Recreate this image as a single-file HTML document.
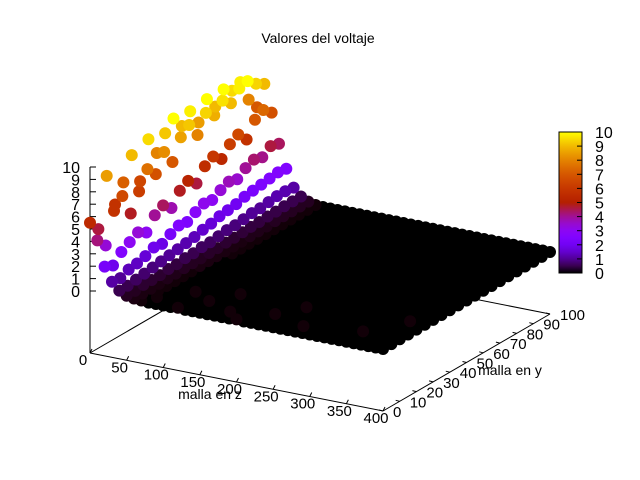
<!DOCTYPE html>
<html><head><meta charset="utf-8"><style>
html,body{margin:0;padding:0;background:#fff;}
svg{display:block;font-family:"Liberation Sans",sans-serif;}
</style></head><body>
<svg id="chart" width="640" height="480" viewBox="0 0 640 480" xmlns="http://www.w3.org/2000/svg">
<rect width="640" height="480" fill="#fff"/>
<text x="318" y="43" font-size="14" text-anchor="middle">Valores del voltaje</text>
<g id="axes"></g>
<g id="points"></g>
<g id="cbar"></g>
<text x="210" y="399" font-size="14" text-anchor="middle">malla en z</text>
<text x="510" y="375" font-size="14" text-anchor="middle">malla en y</text>
</svg>
<script>
// grid coordinates
const xVals = [0,10,20,30,40,50,60,70,80,90,100,110,120,130,140,150,160,170,180,190,200,210,220,230,240,250,260,270,280,290,300,310,320,330,340,350,360,370,380,390,400];
const yVals = [0,5,10,15,20,25,30,35,40,45,50,55,60,65,70,75,80,85,90,95,100];
// voltage values: one row per y value, columns follow xVals
const vRows = [
[5.5,4.2,2.2,1.1,0.5,0.2,0.1,0.05,0,0,0,0,0.05,0,0,0,0,0,0,0,0.05,0,0,0,0,0,0,0,0,0,0,0,0,0,0,0,0,0,0,0,0],
[4.6,3.4,1.9,1.0,0.5,0.2,0.1,0,0.05,0,0,0,0,0,0,0,0,0,0.05,0,0,0,0,0,0,0,0,0,0.05,0,0,0,0,0,0,0,0,0,0,0,0],
[8.5,5.8,2.6,1.3,0.6,0.3,0.1,0.05,0,0,0,0,0,0,0.05,0,0,0,0,0,0,0,0,0.05,0,0,0,0,0,0,0,0,0,0,0,0.05,0,0,0,0,0],
[5.8,6.6,3.0,1.4,0.7,0.3,0.1,0.05,0,0,0,0.05,0,0,0,0,0,0,0,0,0,0,0,0,0,0,0,0,0,0,0,0,0,0,0,0,0,0,0,0,0],
[7.2,4.8,3.4,1.6,0.8,0.3,0.15,0.05,0,0,0,0,0,0,0,0,0.05,0,0,0,0,0,0,0,0,0.05,0,0,0,0,0,0,0,0,0,0,0,0,0,0,0],
[9.0,6.2,3.0,1.9,0.9,0.4,0.15,0.05,0,0,0,0,0,0,0,0,0,0,0,0,0,0,0,0,0,0,0,0,0,0,0,0,0,0,0,0,0,0,0.05,0,0],
[6.5,7.6,4.0,1.8,1.0,0.4,0.2,0.05,0,0,0,0,0,0,0,0,0,0,0,0,0,0,0,0,0,0,0,0,0,0,0,0,0,0,0,0,0,0,0,0,0],
[9.5,6.8,4.4,2.2,1.1,0.5,0.2,0.1,0,0,0,0,0,0,0,0,0,0,0,0,0,0,0,0,0,0,0,0,0,0,0,0,0,0,0,0,0,0,0,0,0],
[8.0,8.2,3.8,2.5,1.2,0.5,0.2,0.1,0,0,0,0,0,0,0,0,0,0,0,0,0,0,0,0,0,0,0,0,0,0,0,0,0,0,0,0,0,0,0,0,0],
[9.2,7.0,4.8,2.4,1.3,0.6,0.25,0.1,0,0,0,0,0,0,0,0,0,0,0,0,0,0,0,0,0,0,0,0,0,0,0,0,0,0,0,0,0,0,0,0,0],
[10.0,8.6,5.2,2.8,1.5,0.6,0.25,0.1,0.05,0,0,0,0,0,0,0,0,0,0,0,0,0,0,0,0,0,0,0,0,0,0,0,0,0,0,0,0,0,0,0,0],
[9.0,9.2,4.6,3.1,1.6,0.7,0.3,0.1,0.05,0,0,0,0,0,0,0,0,0,0,0,0,0,0,0,0,0,0,0,0,0,0,0,0,0,0,0,0,0,0,0,0],
[9.8,8.0,5.6,3.0,1.8,0.8,0.3,0.1,0.05,0,0,0,0,0,0,0,0,0,0,0,0,0,0,0,0,0,0,0,0,0,0,0,0,0,0,0,0,0,0,0,0],
[8.5,9.4,6.0,3.4,1.9,0.8,0.35,0.15,0.05,0,0,0,0,0,0,0,0,0,0,0,0,0,0,0,0,0,0,0,0,0,0,0,0,0,0,0,0,0,0,0,0],
[10.0,8.8,5.4,3.7,2.0,0.9,0.4,0.15,0.05,0,0,0,0,0,0,0,0,0,0,0,0,0,0,0,0,0,0,0,0,0,0,0,0,0,0,0,0,0,0,0,0],
[9.0,9.6,6.2,3.5,2.2,1.0,0.4,0.15,0.05,0,0,0,0,0,0,0,0,0,0,0,0,0,0,0,0,0,0,0,0,0,0,0,0,0,0,0,0,0,0,0,0],
[10.0,9.0,6.6,4.0,2.3,1.0,0.45,0.2,0.05,0,0,0,0,0,0,0,0,0,0,0,0,0,0,0,0,0,0,0,0,0,0,0,0,0,0,0,0,0,0,0,0],
[9.5,9.8,5.8,4.3,2.4,1.1,0.45,0.2,0.05,0,0,0,0,0,0,0,0,0,0,0,0,0,0,0,0,0,0,0,0,0,0,0,0,0,0,0,0,0,0,0,0],
[9.8,10.0,7.0,4.1,2.5,1.2,0.5,0.2,0.05,0,0,0,0,0,0,0,0,0,0,0,0,0,0,0,0,0,0,0,0,0,0,0,0,0,0,0,0,0,0,0,0],
[8.0,9.4,7.4,4.6,2.6,1.2,0.5,0.2,0.05,0,0,0,0,0,0,0,0,0,0,0,0,0,0,0,0,0,0,0,0,0,0,0,0,0,0,0,0,0,0,0,0],
[7.0,9.0,6.8,4.4,2.5,1.1,0.5,0.2,0.05,0,0,0,0,0,0,0,0,0,0,0,0,0,0,0,0,0,0,0,0,0,0,0,0,0,0,0,0,0,0,0,0]
];
const zTicks = [0,1,2,3,4,5,6,7,8,9,10];
const xTicks = [0,50,100,150,200,250,300,350,400];
const yTicks = [0,10,20,30,40,50,60,70,80,90,100];
const cbTicks = [0,1,2,3,4,5,6,7,8,9,10];

const NS="http://www.w3.org/2000/svg";
function mk(tag, attrs, parent){const e=document.createElementNS(NS,tag);for(const k in attrs)e.setAttribute(k,attrs[k]);parent.appendChild(e);return e;}
function px(x,y){return 90 + x*(293/400) + y*(167/100);}
function pyBase(x,y){return 353 + x*(58/400) - y*(97/100);}
function py(x,y,z){return pyBase(x,y) - 62 - z*12.4;}
function pal(v){let g=Math.max(0,Math.min(1,v/10));
  const r=Math.sqrt(g), gg=g*g*g, b=Math.max(0,Math.sin(2*Math.PI*g));
  return `rgb(${Math.round(r*255)},${Math.round(gg*255)},${Math.round(b*255)})`;}

const axes=document.getElementById('axes');
const corners=[[0,0],[400,0],[400,100],[0,100]];
for(let i=0;i<4;i++){const a=corners[i],b=corners[(i+1)%4];
  const l=mk('line',{x1:px(a[0],a[1]),y1:pyBase(a[0],a[1]),x2:px(b[0],b[1]),y2:pyBase(b[0],b[1]),stroke:'#000','stroke-width':1},axes);
  
  
}
const za=mk('line',{x1:90,y1:353,x2:90,y2:py(0,0,10),stroke:'#000','stroke-width':1},axes);


zTicks.forEach(t=>{const y=py(0,0,t);
  mk('line',{x1:90,y1:y,x2:96,y2:y,stroke:'#000'},axes);
  const tx=mk('text',{x:80,y:y+6,'font-size':16,'text-anchor':'end'},axes);tx.textContent=t;
  
  
});
xTicks.forEach(t=>{const x=px(t,0),y=pyBase(t,0);
  mk('line',{x1:x,y1:y,x2:x+2,y2:y-4,stroke:'#000'},axes);
  const tx=mk('text',{x:x-7,y:y+12,'font-size':15,'text-anchor':'middle'},axes);tx.textContent=t;
  
  
});
yTicks.forEach(t=>{const x=px(400,t),y=pyBase(400,t);
  mk('line',{x1:x,y1:y,x2:x-4,y2:y-1,stroke:'#000'},axes);
  const tx=mk('text',{x:x+10,y:y+6,'font-size':15,'text-anchor':'start'},axes);tx.textContent=t;
  
  
});

const pts=[];
yVals.forEach((y,i)=>xVals.forEach((x,j)=>pts.push([x,y,vRows[i][j]])));
pts.sort((a,b)=>a[2]-b[2]);
const pg=document.getElementById('points');
pts.forEach(p=>{const c=mk('circle',{cx:px(p[0],p[1]),cy:py(p[0],p[1],p[2]),r:6,fill:pal(p[2])},pg);
  
  
});

const cb=document.getElementById('cbar');
const defs=mk('defs',{},cb);
const lg=mk('linearGradient',{id:'cbg',x1:0,y1:1,x2:0,y2:0},defs);
for(let i=0;i<=20;i++){mk('stop',{offset:i/20,'stop-color':pal(i/2)},lg);}
const cr=mk('rect',{x:559,y:132,width:23,height:141,fill:'url(#cbg)',stroke:'#000','stroke-width':1},cb);


cbTicks.forEach(t=>{const y=273-t*14.1;
  mk('line',{x1:577,y1:y,x2:582,y2:y,stroke:'#000'},cb);
  const tx=mk('text',{x:595,y:y+6,'font-size':16},cb);tx.textContent=t;
  
  
});
</script>
</body></html>
